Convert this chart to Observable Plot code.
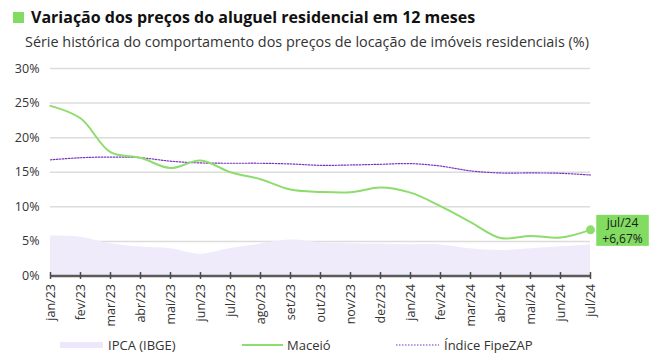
<!DOCTYPE html>
<html>
<head>
<meta charset="utf-8">
<script src="https://cdn.jsdelivr.net/npm/d3@7"></script>
<script src="https://cdn.jsdelivr.net/npm/@observablehq/plot@0.6"></script>
<style>
  html, body { margin: 0; padding: 0; background: #fff; }
  #wrap { position: relative; width: 660px; height: 361px; overflow: hidden; font-family: "Open Sans", sans-serif; color: #333; }
  #chart { position: absolute; left: 0; top: 0; }
  .title { position: absolute; left: 13px; top: 6px; font-size: 16px; font-weight: 700; color: #111; white-space: nowrap; display: flex; align-items: center; }
  .title .sq { display: inline-block; width: 11px; height: 11px; background: #82dc62; margin-right: 7px; }
  .subtitle { position: absolute; left: 25px; top: 32px; font-size: 14.4px; color: #333; white-space: nowrap; }
  .leg { position: absolute; top: 336px; font-size: 13px; color: #333; white-space: nowrap; line-height: 18px; }
  .sw { position: absolute; }
</style>
</head>
<body>
<div id="wrap">
  <div id="chart"></div>
  <div class="title"><span class="sq"></span>Variação dos preços do aluguel residencial em 12 meses</div>
  <div class="subtitle">Série histórica do comportamento dos preços de locação de imóveis residenciais (%)</div>
  <div class="sw" style="left:60px; top:342px; width:43px; height:6px; background:#ede7fb;"></div>
  <div class="leg" style="left:108px;">IPCA (IBGE)</div>
  <div class="sw" style="left:242px; top:344px; width:41px; height:0; border-top:2px solid #8ddd6d;"></div>
  <div class="leg" style="left:287px;">Maceió</div>
  <svg class="sw" style="left:396px; top:343px;" width="43" height="4"><line x1="0" y1="2" x2="43" y2="2" stroke="#7a35c0" stroke-width="1.2" stroke-dasharray="1.5,1.5"/></svg>
  <div class="leg" style="left:444px;">Índice FipeZAP</div>
</div>
<script>
const months = ["jan/23","fev/23","mar/23","abr/23","mai/23","jun/23","jul/23","ago/23","set/23","out/23","nov/23","dez/23","jan/24","fev/24","mar/24","abr/24","mai/24","jun/24","jul/24"];
const maceio = [24.6, 22.8, 17.9, 17.1, 15.6, 16.7, 15.0, 14.0, 12.5, 12.15, 12.1, 12.8, 12.05, 10.1, 7.8, 5.5, 5.8, 5.55, 6.67];
const fipezap = [16.8, 17.1, 17.2, 17.1, 16.6, 16.35, 16.3, 16.3, 16.2, 16.0, 16.05, 16.15, 16.25, 15.9, 15.2, 14.9, 14.9, 14.85, 14.6];
const ipca = [5.77, 5.60, 4.65, 4.18, 3.94, 3.16, 3.99, 4.61, 5.19, 4.82, 4.68, 4.62, 4.51, 4.50, 3.93, 3.69, 3.93, 4.23, 4.50];
const yTicks = [0, 5, 10, 15, 20, 25, 30];
const lastLabel = ["jul/24", "+6,67%"];

const rows = months.map((m, i) => ({month: m, maceio: maceio[i], fipezap: fipezap[i], ipca: ipca[i]}));
const last = rows[rows.length - 1];
const fmtPct = d => d + "%";

const chart = Plot.plot({
  width: 660,
  height: 361,
  marginLeft: 50,
  marginRight: 70,
  marginTop: 68,
  marginBottom: 85.5,
  style: {fontFamily: "Open Sans, sans-serif", fontSize: "12.5px", color: "#333", background: "transparent"},
  x: {type: "point", domain: months, padding: 0},
  y: {domain: [0, 30]},
  marks: [
    Plot.gridY(yTicks.filter(d => d > 0), {stroke: "#dcdcdc", strokeOpacity: 1, strokeWidth: 1.5}),
    Plot.areaY(rows, {x: "month", y: "ipca", fill: "#f0ebfb", curve: "catmull-rom"}),
    Plot.lineY(rows, {x: "month", y: "fipezap", stroke: "#7a35c0", strokeWidth: 1.2, strokeDasharray: "1.5,1.5", curve: "catmull-rom"}),
    Plot.lineY(rows, {x: "month", y: "maceio", stroke: "#8ddd6d", strokeWidth: 2, curve: "catmull-rom"}),
    Plot.dot([last], {x: "month", y: "maceio", r: 4.5, fill: "#8ddd6d"}),
    Plot.ruleY([0], {stroke: "#5a5a5a", strokeWidth: 2.5}),
    Plot.ruleX(months, {x: d => d, y1: -0.5, y2: 0.5, stroke: "#4a4a4a", strokeWidth: 1.5}),
    Plot.axisY(yTicks, {tickSize: 0, tickPadding: 11, tickFormat: fmtPct, fontSize: 12.5, fill: "#333", label: null}),
    Plot.axisX(months, {tickSize: 0, tickPadding: 8, tickRotate: -90, fontSize: 12.5, fill: "#333", label: null}),
    Plot.text([last], {x: "month", y: "maceio", text: () => lastLabel.join("\n"), dx: 32, fontSize: 12, fill: "#1a1a1a", lineHeight: 1.3, className: "endlabel", textAnchor: "middle"})
  ]
});
document.getElementById("chart").appendChild(chart);

// background box for the end label, sized around the rendered text
const t = chart.querySelector(".endlabel text");
if (t) {
  const b = t.getBBox();
  const ns = "http://www.w3.org/2000/svg";
  const r = document.createElementNS(ns, "rect");
  const w = b.width + 12, h = 31;
  const cx = b.x + b.width / 2, cy = b.y + b.height / 2;
  r.setAttribute("x", cx - w / 2);
  r.setAttribute("y", cy - h / 2);
  r.setAttribute("width", w);
  r.setAttribute("height", h);
  r.setAttribute("fill", "#82dc62");
  const tr = t.getAttribute("transform");
  if (tr) r.setAttribute("transform", tr);
  t.parentNode.insertBefore(r, t);
}
</script>
</body>
</html>
